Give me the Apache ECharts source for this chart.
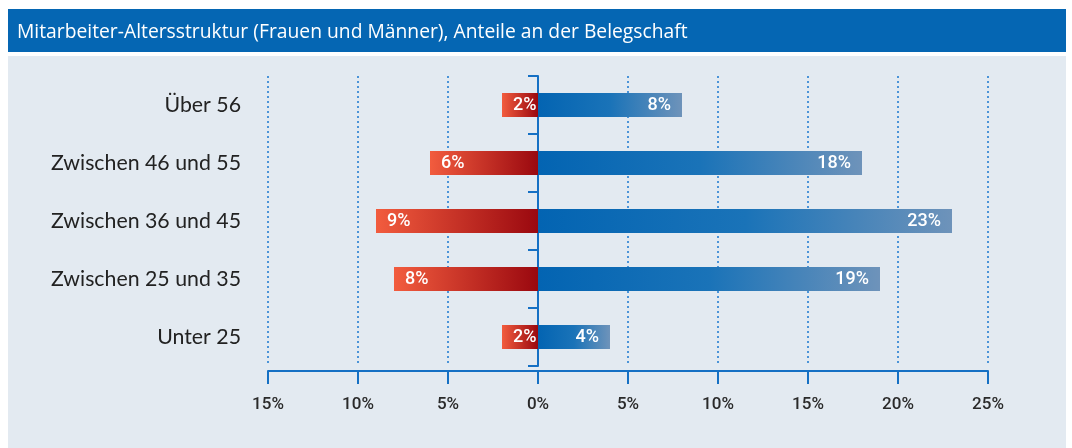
<!DOCTYPE html>
<html>
<head>
<meta charset="utf-8">
<script src="https://cdn.jsdelivr.net/npm/echarts@6/dist/echarts.min.js"></script>
<style>
  html, body { margin: 0; padding: 0; background: #ffffff; }
  #main { width: 1072px; height: 448px; }
</style>
</head>
<body>
<div id="main"></div>
<script>
// Altersgruppen (von oben nach unten)
var categories = ['Über 56', 'Zwischen 46 und 55', 'Zwischen 36 und 45', 'Zwischen 25 und 35', 'Unter 25'];
// Frauen (links, rot) und Männer (rechts, blau), Anteile in %
var frauen = [2, 6, 9, 8, 2];
var maenner = [8, 18, 23, 19, 4];
// Achse
var axisMin = -15;
var axisMax = 25;
var axisStep = 5;

var titleText = 'Mitarbeiter-Altersstruktur (Frauen und Männer), Anteile an der Belegschaft';

var axisBlue = '#1570c4';
var narrow = 'Roboto, sans-serif';

var myChart = echarts.init(document.getElementById('main'));

myChart.setOption({
    animation: false,
    backgroundColor: '#ffffff',
    graphic: [
        { type: 'rect', z: -10, shape: { x: 8, y: 9, width: 1058, height: 43 }, style: { fill: '#0566b3' } },
        { type: 'rect', z: -10, shape: { x: 8, y: 56, width: 1058, height: 392 }, style: { fill: '#e3eaf1' } }
    ],
    title: {
        text: titleText,
        left: 12,
        top: 18,
        textStyle: {
            color: '#ffffff',
            fontFamily: '"Open Sans", sans-serif',
            fontSize: 19.3,
            fontWeight: 'normal'
        }
    },
    grid: {
        left: 268,
        right: 84,
        top: 76,
        height: 290
    },
    xAxis: {
        type: 'value',
        min: axisMin,
        max: axisMax,
        interval: axisStep,
        offset: 5,
        axisLine: { show: true, onZero: false, lineStyle: { color: axisBlue, width: 2 } },
        axisTick: { show: true, length: 13, lineStyle: { color: axisBlue, width: 2 } },
        axisLabel: {
            margin: 25,
            color: '#2a2a2a',
            fontFamily: narrow,
            fontWeight: 500,
            fontSize: 17,
            formatter: function (v) { return Math.abs(v) + '%'; }
        },
        splitLine: {
            show: true,
            lineStyle: { color: '#1a78d0', type: [2, 3], width: 1.5 }
        }
    },
    yAxis: [
        {
            // Beschriftung links
            type: 'category',
            data: categories,
            inverse: true,
            position: 'left',
            axisLine: { show: false, onZero: false },
            axisTick: { show: false },
            axisLabel: {
                margin: 27,
                color: '#222222',
                fontFamily: 'Lato, sans-serif',
                fontSize: 21.3
            }
        },
        {
            // Mittelachse bei 0
            type: 'category',
            data: categories,
            inverse: true,
            position: 'left',
            axisLine: { show: true, onZero: true, lineStyle: { color: axisBlue, width: 2 } },
            axisTick: { show: true, length: 10, lineStyle: { color: axisBlue, width: 2 } },
            axisLabel: { show: false }
        }
    ],
    series: [
        {
            name: 'Frauen',
            type: 'bar',
            stack: 'gesamt',
            barWidth: 24,
            data: frauen.map(function (v) { return -v; }),
            itemStyle: {
                color: new echarts.graphic.LinearGradient(0, 0, 1, 0, [
                    { offset: 0, color: '#f25c3e' },
                    { offset: 1, color: '#9a080f' }
                ])
            },
            label: {
                show: true,
                position: 'insideLeft',
                distance: 11,
                color: '#ffffff',
                fontFamily: narrow,
                fontWeight: 500,
                fontSize: 18,
                formatter: function (p) { return Math.abs(p.value) + '%'; }
            }
        },
        {
            name: 'Männer',
            type: 'bar',
            stack: 'gesamt',
            barWidth: 24,
            data: maenner,
            itemStyle: {
                color: new echarts.graphic.LinearGradient(0, 0, 1, 0, [
                    { offset: 0, color: '#0364b2' },
                    { offset: 0.5, color: '#1a73b8' },
                    { offset: 1, color: '#6e93ba' }
                ])
            },
            label: {
                show: true,
                position: 'insideRight',
                distance: 11,
                color: '#ffffff',
                fontFamily: narrow,
                fontWeight: 500,
                fontSize: 18,
                formatter: function (p) { return p.value + '%'; }
            }
        }
    ]
});
</script>
</body>
</html>
